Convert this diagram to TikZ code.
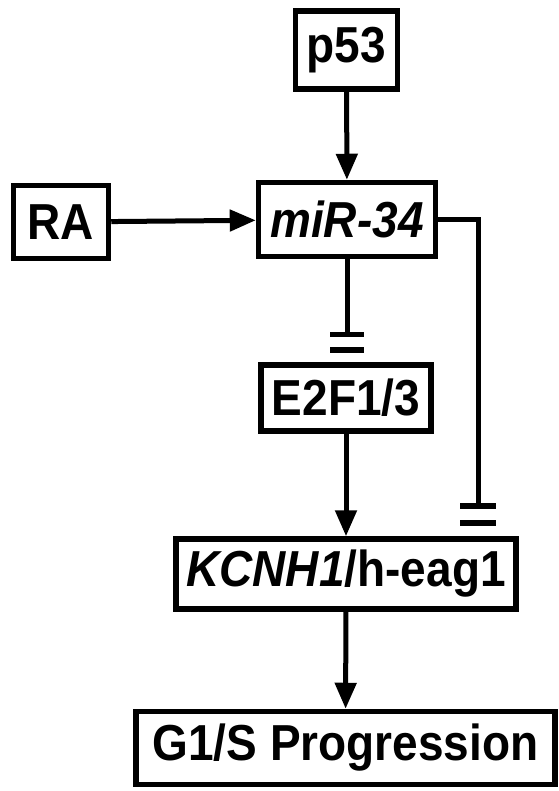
\documentclass[tikz,border=0pt]{standalone}
\usepackage{fontspec}
\setmainfont{Liberation Sans}
\usepackage{graphicx}
\usepackage{tikz}
\usetikzlibrary{arrows.meta}
\newcommand{\stretchlabel}[1]{\scalebox{1}[1.1]{#1}}

\begin{document}
\begin{tikzpicture}[x=1pt,y=-1pt,
  box/.style={draw, line width=5.5pt, inner sep=0pt, font=\fontsize{46}{50}\selectfont\bfseries},
  act/.style={line width=5pt, -{Triangle[width=21pt,length=26pt]}},
  inh/.style={line width=5pt},
  barline/.style={line width=5.5pt}]
\useasboundingbox (0,0) rectangle (558,791);
% Nodes
\node[box, minimum width=102pt, minimum height=78pt] (p53) at (346.5,50) {\stretchlabel{p53}};
\node[box, minimum width=95pt, minimum height=73pt] (ra) at (61,222) {\stretchlabel{RA}};
\node[box, minimum width=177pt, minimum height=74pt] (mir) at (347,219.5) {\stretchlabel{\textit{miR-34}}};
\node[box, minimum width=170pt, minimum height=66pt] (e2f) at (346,398) {\stretchlabel{E2F1/3}};
\node[box, minimum width=340pt, minimum height=70pt] (kcnh) at (346,574) {\stretchlabel{\textit{KCNH1}/h-eag1}};
\node[box, minimum width=419pt, minimum height=73pt] (g1s) at (345.5,748) {\stretchlabel{G1/S Progression}};
% Activation
\draw[act] (p53) -- (mir);
\draw[act] (ra) -- (mir);
\draw[act] (e2f.south -| kcnh.north) -- (kcnh.north);
\draw[act] (kcnh) -- (g1s);
% miR-34 inhibits E2F1/3
\coordinate (b1) at (347,334.5);
\draw[inh] (mir.south -| b1) -- (b1);
\draw[barline] ([xshift=-17pt]b1) -- ([xshift=17pt]b1);
\draw[barline] ([xshift=-17pt,yshift=-15.5pt]b1) -- ([xshift=17pt,yshift=-15.5pt]b1);
% miR-34 inhibits KCNH1
\coordinate (c1) at (478,220);
\coordinate (b2) at (478,506);
\draw[inh] (mir.east |- c1) -- (c1) -- (b2);
\draw[barline] ([xshift=-18pt]b2) -- ([xshift=18pt]b2);
\draw[barline] ([xshift=-18pt,yshift=-17pt]b2) -- ([xshift=18pt,yshift=-17pt]b2);
\end{tikzpicture}
\end{document}
